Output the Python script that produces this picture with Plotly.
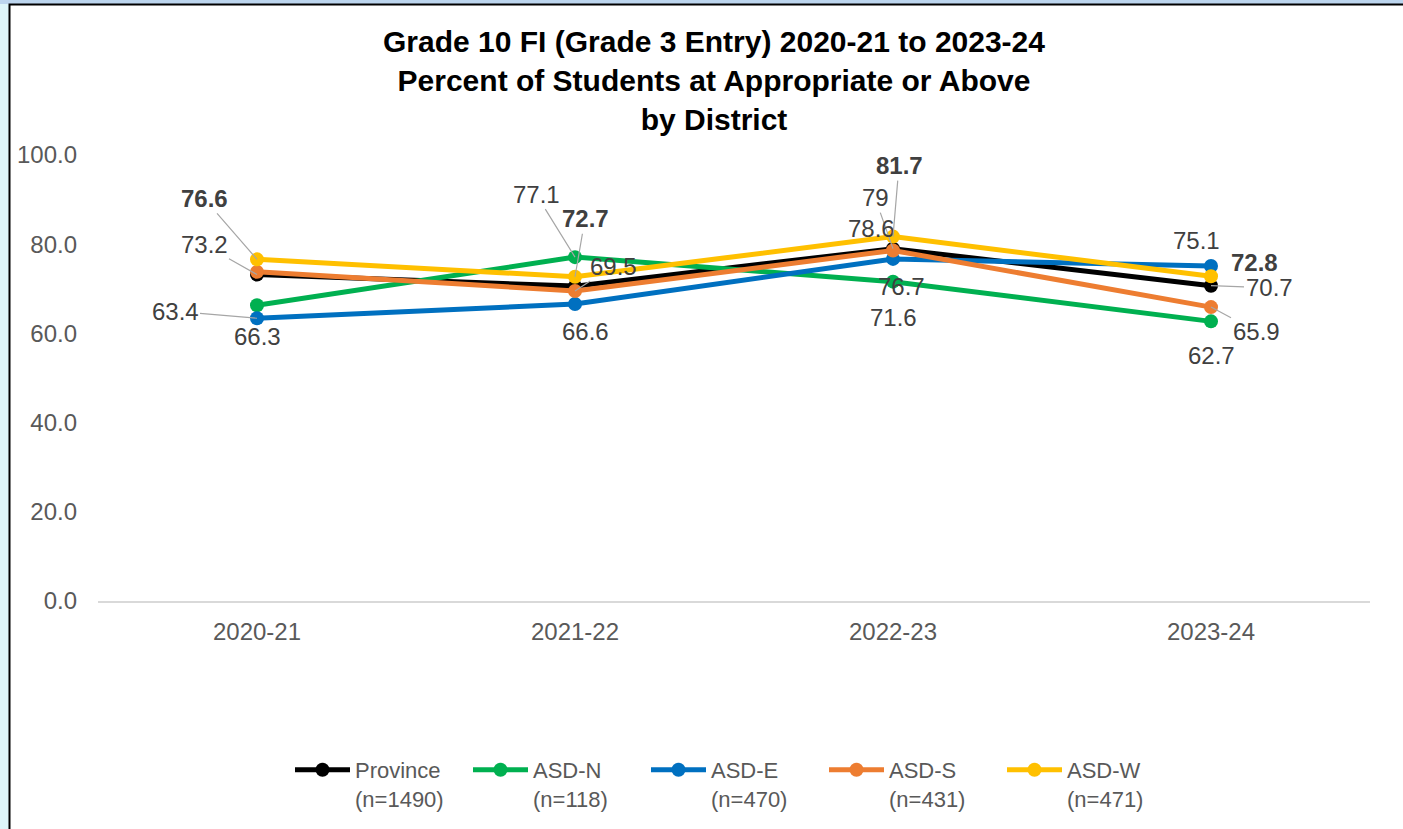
import plotly.graph_objects as go

years = ["2020-21", "2021-22", "2022-23", "2023-24"]
series_names = ["Province", "ASD-N", "ASD-E", "ASD-S", "ASD-W"]
series_n = ["(n=1490)", "(n=118)", "(n=470)", "(n=431)", "(n=471)"]
province = [73.2, 70.6, 79.0, 70.7]
asd_n = [66.3, 77.1, 71.6, 62.7]
asd_e = [63.4, 66.6, 76.7, 75.1]
asd_s = [73.8, 69.5, 78.6, 65.9]
asd_w = [76.6, 72.7, 81.7, 72.8]
values = [province, asd_n, asd_e, asd_s, asd_w]
y_ticks = [0, 20, 40, 60, 80, 100]

colors = ["#000000", "#00B050", "#0070C0", "#ED7D31", "#FFC000"]

# label placement (pixel offsets of text from point; None = no label), leader flag
label_pos = {
    0: [(-53, -30, True), None, (-18, -51, True), (58, 2, True)],
    1: [(0, 31, False), (-39, -63, True), (0, 36, False), (0, 34, False)],
    2: [(-82, -7, True), (10, 28, False), (8, 28, False), (-15, -26, False)],
    3: [None, (38, -25, True), (-22, -22, False), (45, 24, True)],
    4: [(-53, -61, True), (10, -58, True), (6, -71, True), (43, -14, False)],
}

fig = go.Figure()
for i, name in enumerate(series_names):
    fig.add_trace(go.Scatter(
        x=years, y=values[i], mode="lines+markers",
        name=f"{name}<br>{series_n[i]}",
        line=dict(color=colors[i], width=5),
        marker=dict(color=colors[i], size=14),
    ))

annotations = []
for i in range(len(series_names)):
    for j, yr in enumerate(years):
        pos = label_pos[i][j]
        if pos is None:
            continue
        ax, ay, leader = pos
        v = values[i][j]
        txt = f"{v:g}"
        if i == 4:
            txt = f"<b>{txt}</b>"
        annotations.append(dict(
            x=yr, y=v, xref="x", yref="y", text=txt,
            showarrow=True, ax=ax, ay=ay, axref="pixel", ayref="pixel",
            arrowhead=0, arrowwidth=1.2,
            arrowcolor="#A6A6A6" if leader else "rgba(0,0,0,0)",
            font=dict(family="Liberation Sans, Arial", size=24, color="#404040"),
            standoff=0,
        ))

L, R, T, B = 98, 33, 155, 228
PW = 1403 - L - R
PH = 829 - T - B

def px2paper_x(p):
    return (p - L) / PW

def px2paper_y(p):
    return (829 - B - p) / PH

shapes = [
    dict(type="rect", xref="paper", yref="paper", layer="below",
         x0=px2paper_x(-5), x1=px2paper_x(1410), y0=px2paper_y(4), y1=px2paper_y(-5),
         fillcolor="#BCD5EE", line=dict(width=0)),
    dict(type="rect", xref="paper", yref="paper", layer="below",
         x0=px2paper_x(9.5), x1=px2paper_x(1420), y0=px2paper_y(840), y1=px2paper_y(4.5),
         fillcolor="#FFFFFF", line=dict(color="#000000", width=2)),
]

fig.update_layout(
    width=1403, height=829,
    margin=dict(l=L, r=R, t=T, b=B, autoexpand=False),
    paper_bgcolor="#DDF5F9",
    plot_bgcolor="rgba(0,0,0,0)",
    title=dict(
        text="<b>Grade 10 FI (Grade 3 Entry) 2020-21 to 2023-24<br>Percent of Students at Appropriate or Above<br>by District</b>",
        x=714 / 1403, xanchor="center", xref="container",
        y=1 - 52 / 829, yanchor="middle", yref="container",
        font=dict(family="Liberation Sans, Arial", size=30, color="#000000"),
    ),
    font=dict(family="Liberation Sans, Arial", color="#595959"),
    xaxis=dict(
        type="category", range=[-0.5, 3.5],
        showline=True, linecolor="#D9D9D9", linewidth=2,
        showgrid=False, ticks="", tickfont=dict(size=24, color="#595959"),
        ticklabelstandoff=8,
    ),
    yaxis=dict(
        range=[0, 100], tickvals=y_ticks, tickformat=".1f",
        showgrid=False, zeroline=False, showline=False, ticks="",
        tickfont=dict(size=24, color="#595959"),
        ticklabelstandoff=20,
    ),
    legend=dict(
        orientation="h", x=px2paper_x(290), xanchor="left",
        y=px2paper_y(749), yanchor="top",
        entrywidth=108, entrywidthmode="pixels",
        valign="top", bgcolor="rgba(0,0,0,0)",
        font=dict(family="Liberation Sans, Arial", size=22, color="#595959"),
        itemwidth=55, tracegroupgap=0,
    ),
    annotations=annotations,
    shapes=shapes,
)

fig.write_html("out.html", post_script="document.body.style.margin='0';",
               config={"displayModeBar": False})
